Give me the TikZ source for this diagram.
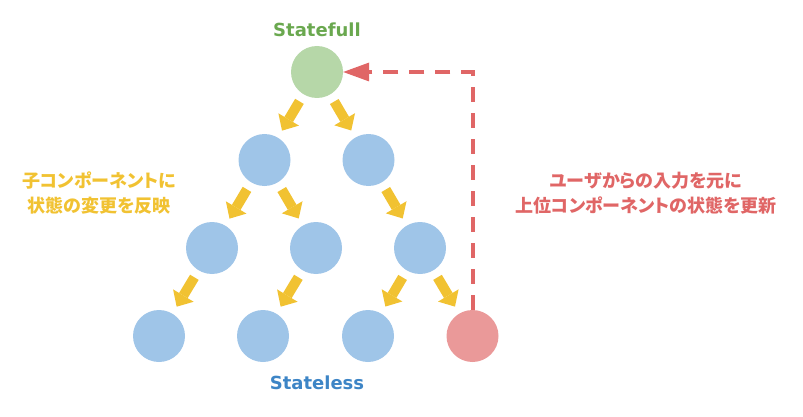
\documentclass[tikz,border=0pt]{standalone}
\usepackage{fontspec}
\newfontfamily\lat{DejaVu Sans}
\newfontfamily\cjk{Noto Sans CJK JP}[RawFeature=+palt]
\usetikzlibrary{arrows.meta}
\definecolor{cblue}{HTML}{9FC5E8}
\definecolor{cgreen}{HTML}{B6D7A8}
\definecolor{cred}{HTML}{EA9999}
\definecolor{ayellow}{HTML}{F1C232}
\definecolor{ared}{HTML}{E06666}
\definecolor{tgreen}{HTML}{6AA84F}
\definecolor{tblue}{HTML}{3D85C6}
\begin{document}
\begin{tikzpicture}[x=1pt,y=-1pt,
  circ/.style={circle,minimum size=52pt,inner sep=0pt,fill=cblue},
  push/.style={draw=ayellow,line width=10pt,-{Triangle[width=24pt,length=13pt,line width=0pt]},shorten <=8pt,shorten >=8pt},
  fbline/.style={draw=ared,line width=4pt,dash pattern=on 15pt off 11pt,-{Triangle[width=19pt,length=26pt,line width=0pt]}},
  ttl/.style={font=\lat\bfseries\fontsize{18}{20}\selectfont},
  jp/.style={align=center,font=\cjk\bfseries\fontsize{18}{25}\selectfont}]
\useasboundingbox (0,0) rectangle (803,417);
\node[circ,fill=cgreen] (root) at (317,72) {};
\node[circ] (b1) at (264.5,160) {};
\node[circ] (b2) at (368.5,160) {};
\node[circ] (c1) at (212,248) {};
\node[circ] (c2) at (316,248) {};
\node[circ] (c3) at (420,248) {};
\node[circ] (d1) at (159,336) {};
\node[circ] (d2) at (263,336) {};
\node[circ] (d3) at (368,336) {};
\node[circ,fill=cred] (d4) at (472.5,336) {};
\draw[push] (root) -- (b1);
\draw[push] (root) -- (b2);
\draw[push] (b1) -- (c1);
\draw[push] (b1) -- (c2);
\draw[push] (b2) -- (c3);
\draw[push] (c1) -- (d1);
\draw[push] (c2) -- (d2);
\draw[push] (c3) -- (d3);
\draw[push] (c3) -- (d4);
\coordinate (corner) at (d4.north |- root.east);
\draw[fbline] (d4.north) -- (corner) -- (root.east);
\node[ttl,text=tgreen] (tf) at (317,30) {Statefull};
\node[ttl,text=tblue] (tl) at (317,383) {Stateless};
\node[jp,text=ayellow] (lt) at (99,193) {子コンポーネントに\\状態の変更を反映};
\node[jp,text=ared] (rt) at (646,193) {ユーザからの入力を元に\\上位コンポーネントの状態を更新};
\end{tikzpicture}
\end{document}
